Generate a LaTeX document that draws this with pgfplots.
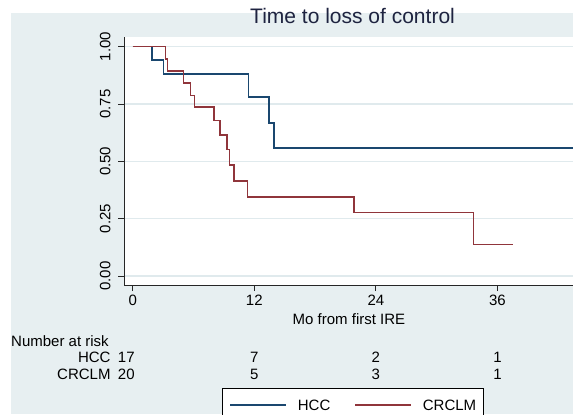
\documentclass[border=0pt]{standalone}
\usepackage{fontspec}
\setmainfont{Liberation Sans}
\usepackage{pgfplots}
\pgfplotsset{compat=1.18}
\definecolor{bgc}{RGB}{231,239,241}
\definecolor{gridc}{RGB}{224,234,237}
\definecolor{hcc}{RGB}{26,71,111}
\definecolor{crc}{RGB}{144,53,59}
\definecolor{titc}{RGB}{30,35,64}
\begin{document}
\begin{tikzpicture}[x=1bp,y=1bp]
\useasboundingbox (0,0) rectangle (573,414);
\clip (0,0) rectangle (573,414);
\fill[white] (0,0) rectangle (573,414);
\fill[bgc] (11,0) rectangle (573,401);
\begin{axis}[
  at={(124bp,129bp)}, anchor=south west,
  scale only axis, width=449bp, height=248bp,
  xmin=-0.86, xmax=43.46, ymin=-0.0393, ymax=1.0423,
  clip=false,
  axis x line*=bottom, axis y line*=left,
  axis line style={black!85, line width=0.9bp},
  every tick/.style={black!85, line width=0.9bp},
  tick align=outside, major tick length=6bp,
  xtick={0,12,24,36}, ytick={0,0.25,0.5,0.75,1},
  ymajorgrids, grid style={gridc, line width=1.2bp},
  axis background/.style={fill=white},
  /pgf/number format/assume math mode=true,
  yticklabel={\pgfmathprintnumber[fixed,fixed zerofill,precision=2]{\tick}},
  every tick label/.append style={font=\fontsize{15bp}{18bp}\selectfont, text=black},
  yticklabel style={rotate=90, anchor=south, yshift=4bp},
  title={Time to loss of control},
  title style={at={(axis description cs:0.509,1.032)}, anchor=base, font=\fontsize{21bp}{25bp}\selectfont, text=titc, inner sep=0pt},
  xlabel={Mo from first IRE},
  xlabel style={at={(axis description cs:0.501,-0.161)}, anchor=base, font=\fontsize{15bp}{18bp}\selectfont, inner sep=0pt},
  legend columns=2,
  legend image code/.code={\draw[#1, line width=1.5bp] (0bp,0bp) -- (56bp,0bp);},
  legend style={at={(axis description cs:0.5095,-0.4165)}, anchor=north,
    draw=black, line width=0.6bp, fill=white, inner xsep=7.5bp, inner ysep=11bp,
    font=\fontsize{15bp}{18bp}\selectfont,
    nodes={inner sep=0pt, text height=11bp, text depth=0bp},
    /tikz/every odd column/.append style={column sep=11bp},
    /tikz/every even column/.append style={column sep=24bp}},
]
\addplot[const plot, hcc, line width=1.5bp] coordinates {
  (0,1) (1.88,0.941) (3.02,0.882) (11.41,0.781) (13.46,0.668) (13.95,0.558) (43.46,0.558)
};
\addlegendentry{HCC}
\addplot[const plot, crc, line width=1.5bp] coordinates {
  (0,1) (3.25,0.946) (3.45,0.895) (5.0,0.842) (5.72,0.788) (6.08,0.737) (8.03,0.678)
  (8.62,0.614) (9.31,0.552) (9.54,0.484) (10.0,0.414) (11.35,0.345) (21.85,0.276)
  (33.66,0.138) (37.5,0.138)
};
\addlegendentry{CRCLM}
\begin{scope}[font=\fontsize{15bp}{18bp}\selectfont]
\node[anchor=base west, inner sep=0pt] at (axis cs:-12.01,-0.3075) {Number at risk};
\node[anchor=base east, inner sep=0pt] at (axis cs:-2.17,-0.3794) {HCC};
\node[anchor=base west, inner sep=0pt] at (axis cs:-1.48,-0.3794) {17};
\node[anchor=base, inner sep=0pt] at (axis cs:12,-0.3794) {7};
\node[anchor=base, inner sep=0pt] at (axis cs:24,-0.3794) {2};
\node[anchor=base, inner sep=0pt] at (axis cs:36,-0.3794) {1};
\node[anchor=base east, inner sep=0pt] at (axis cs:-2.17,-0.4514) {CRCLM};
\node[anchor=base west, inner sep=0pt] at (axis cs:-1.48,-0.4514) {20};
\node[anchor=base, inner sep=0pt] at (axis cs:12,-0.4514) {5};
\node[anchor=base, inner sep=0pt] at (axis cs:24,-0.4514) {3};
\node[anchor=base, inner sep=0pt] at (axis cs:36,-0.4514) {1};
\end{scope}
\end{axis}
\end{tikzpicture}
\end{document}
